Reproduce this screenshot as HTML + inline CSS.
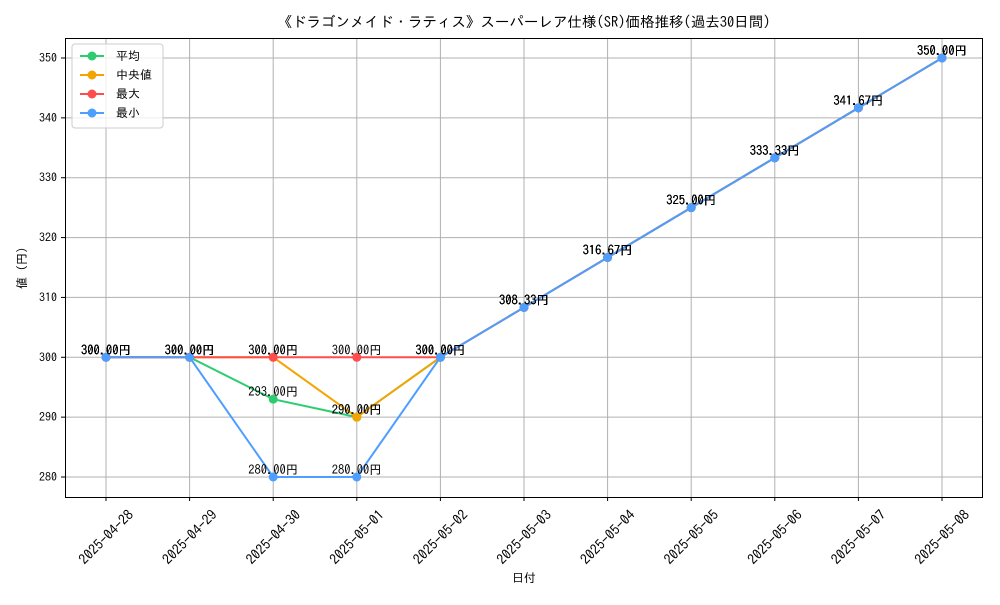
<!DOCTYPE html>
<html><head><meta charset="utf-8"><style>
body{margin:0;background:#fff}
svg text{font-family:"IPAGothic","Noto Sans CJK JP",sans-serif;fill:#000}
</style></head><body>
<svg id="chart" width="1000" height="600" xmlns="http://www.w3.org/2000/svg">
<rect width="1000" height="600" fill="#fff"/>
<text x="524" y="27" font-size="14.5" text-anchor="middle">《ドラゴンメイド・ラティス》スーパーレア仕様(SR)価格推移(過去30日間)</text>
<g id="grid"></g>
<g id="series"></g>
<g id="labels"></g>
<rect x="65.5" y="38.5" width="917" height="459" fill="none" stroke="#000" stroke-width="1"/>
<g id="ticks"></g>
<text x="524" y="582" font-size="12" text-anchor="middle">日付</text>
<text transform="translate(26,268) rotate(-90)" font-size="12" text-anchor="middle">値 (円)</text>
<g>
<rect x="72" y="44" width="91" height="84" rx="3" fill="#fff" fill-opacity="0.8" stroke="#ccc"/>
<g id="legend-items"></g>
</g>
</svg>
<script>
const categories=["2025-04-28","2025-04-29","2025-04-30","2025-05-01","2025-05-02","2025-05-03","2025-05-04","2025-05-05","2025-05-06","2025-05-07","2025-05-08"];
const avgValues=[300,300,293,290,300,308.33,316.67,325,333.33,341.67,350];
const medianValues=[300,300,300,290,300,308.33,316.67,325,333.33,341.67,350];
const maxValues=[300,300,300,300,300,308.33,316.67,325,333.33,341.67,350];
const minValues=[300,300,280,280,300,308.33,316.67,325,333.33,341.67,350];
const yTicks=[280,290,300,310,320,330,340,350];
const seriesNames=["平均","中央値","最大","最小"];
const NS="http://www.w3.org/2000/svg";
const colors=["#2ecc71","#f5a300","#ff4d4d","#4d9eff"];
const x=i=>106+i*(942-106)/(categories.length-1);
const y=v=>477-(v-280)*(477-58)/70;
function mk(tag,attrs,parent){const e=document.createElementNS(NS,tag);for(const k in attrs)e.setAttribute(k,attrs[k]);parent.appendChild(e);return e;}
const grid=document.getElementById('grid'),ticks=document.getElementById('ticks');
categories.forEach((c,i)=>{
 const g=mk('line',{x1:x(i),x2:x(i),y1:38,y2:497,stroke:'#b0b0b0','stroke-width':1},grid);
 
 mk('line',{x1:x(i),x2:x(i),y1:497,y2:501,stroke:'#000'},ticks);
 const t=mk('text',{transform:`translate(${x(i)},${537}) rotate(-45)`,'font-size':14,'text-anchor':'middle','dominant-baseline':'central'},ticks);
 
 t.textContent=c;
});
yTicks.forEach(v=>{
 const g=mk('line',{x1:65,x2:982,y1:y(v),y2:y(v),stroke:'#b0b0b0','stroke-width':1},grid);
 
 mk('line',{x1:61,x2:65,y1:y(v),y2:y(v),stroke:'#000'},ticks);
 const t=mk('text',{x:57,y:y(v)+4,'font-size':12,'text-anchor':'end'},ticks);
 
 t.textContent=v;
});
const all=[avgValues,medianValues,maxValues,minValues];
const sg=document.getElementById('series'),lg=document.getElementById('labels'),leg=document.getElementById('legend-items');
all.forEach((vals,s)=>{
 const g=mk('g',{},sg);
 
 const p=mk('polyline',{points:vals.map((v,i)=>x(i)+','+y(v)).join(' '),fill:'none',stroke:colors[s],'stroke-width':2},g);
 
 vals.forEach((v,i)=>{
  const c=mk('circle',{cx:x(i),cy:y(v),r:4.5,fill:colors[s]},g);
  
  const t=mk('text',{x:x(i),y:y(v)-3,'font-size':12.5,'text-anchor':'middle'},lg);
  
  t.textContent=v.toFixed(2)+'円';
 });
 const ly=56+s*19;
 const e=mk('g',{},leg);
 
 mk('line',{x1:80,x2:104,y1:ly,y2:ly,stroke:colors[s],'stroke-width':2},e);
 mk('circle',{cx:92,cy:ly,r:4.5,fill:colors[s]},e);
 const t=mk('text',{x:116,y:ly+4,'font-size':12},e);
 t.textContent=seriesNames[s];
});
</script>
</body></html>
